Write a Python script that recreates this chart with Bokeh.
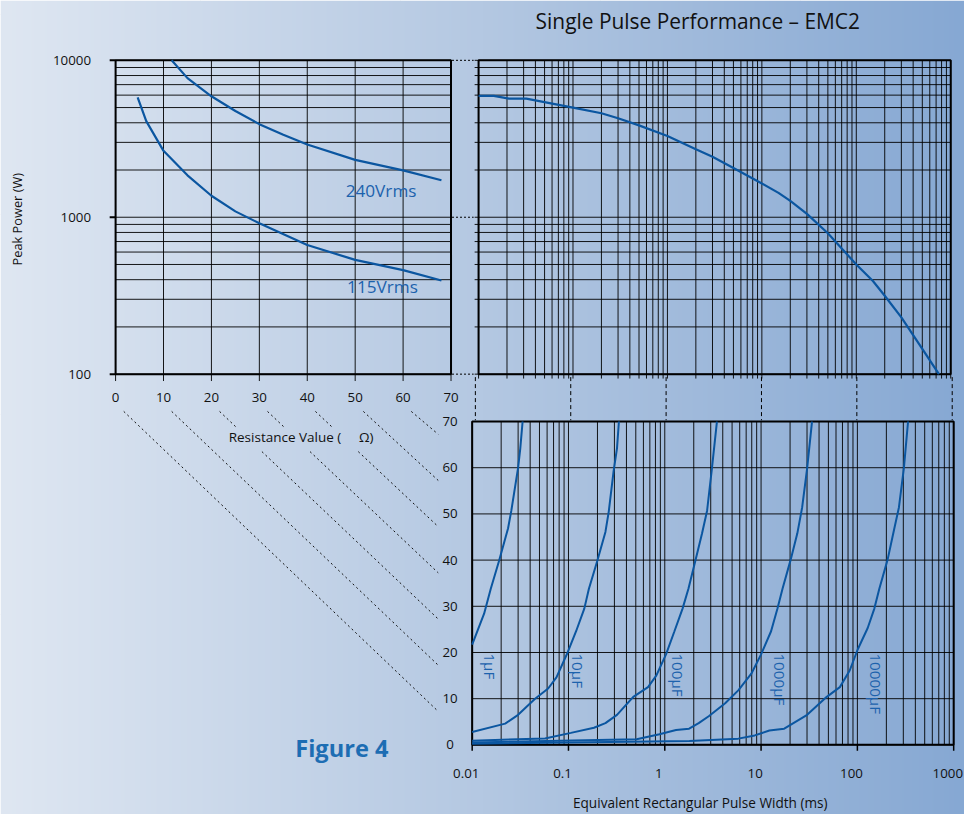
import math
import numpy as np
from bokeh.plotting import figure
from bokeh.models import Range1d, LogScale, LinearScale
from bokeh.core.properties import value
from bokeh.embed import file_html
from bokeh.resources import INLINE

# ---------------- data ----------------
resistance_ticks = [0, 10, 20, 30, 40, 50, 60, 70]
resistance_tick_labels = ["0", "10", "20", "30", "40", "50", "60", "70"]
power_ticks = [100, 1000, 10000]
power_tick_labels = ["100", "1000", "10000"]
pulse_ticks = [0.01, 0.1, 1, 10, 100, 1000]
pulse_tick_labels = ["0.01", "0.1", "1", "10", "100", "1000"]

# Peak power vs resistance
r_115 = [4.6, 6.4, 10, 15, 20, 25, 30, 40, 50, 60, 68]
p_115 = [5800, 4100, 2650, 1850, 1370, 1090, 915, 665, 535, 460, 395]
r_240 = [11.7, 15, 20, 25, 30, 35, 40, 50, 60, 68]
p_240 = [10000, 7700, 5900, 4750, 3920, 3350, 2910, 2320, 1990, 1720]
volt_labels = ["240Vrms", "115Vrms"]
volt_label_r = [55.4, 55.7]
volt_label_p = [1480, 362]

# Peak power vs pulse width
pw_t = [0.01, 0.0145, 0.021, 0.032, 0.1, 0.2, 0.3, 0.5, 1, 2, 3, 5, 10, 15, 20,
        30, 50, 100, 150, 200, 300, 500, 750]
pw_p = [5930, 5930, 5700, 5700, 5000, 4600, 4270, 3850, 3290, 2710, 2430, 2060,
        1640, 1430, 1270, 1050, 790, 500, 392, 316, 230, 145, 100]

# Resistance vs pulse width, per capacitance
t_1uF = [0.01, 0.0133, 0.0156, 0.019, 0.0236, 0.0255, 0.030, 0.0316, 0.0334]
r_1uF = [21.7, 28.4, 33.8, 39.8, 46.9, 50.7, 60, 64.2, 70]
t_10uF = [0.01, 0.022, 0.030, 0.045, 0.0615, 0.075, 0.098, 0.12, 0.146, 0.163,
          0.199, 0.242, 0.262, 0.294, 0.319, 0.334]
r_10uF = [2.8, 4.6, 6.5, 10, 12.2, 14.6, 20, 24.6, 29.5, 33.8, 39.8, 46.1, 50.5,
          59.2, 64.2, 70]
t_100uF = [0.01, 0.057, 0.106, 0.184, 0.242, 0.319, 0.471, 0.67, 0.816, 1.03,
           1.26, 1.53, 1.76, 2.09, 2.44, 2.75, 3.09, 3.48]
r_100uF = [0.9, 1.4, 2.6, 3.7, 4.7, 6.5, 10.4, 12.5, 15.0, 19.6, 24.6, 29.5,
           33.8, 40.1, 45.8, 50.7, 59.9, 70]
t_1000uF = [0.01, 0.51, 0.88, 1.31, 1.79, 2.25, 2.86, 4.24, 5.8, 7.92, 10.0,
            12.7, 14.8, 16.7, 20.3, 23.8, 26.7, 30.1, 33.8]
r_1000uF = [0.5, 1.2, 2.3, 3.2, 3.5, 4.7, 6.2, 9.0, 11.8, 15.4, 19.6, 24.6,
            29.5, 33.8, 40.1, 45.8, 51.4, 59.9, 70]
t_10000uF = [0.01, 1.8, 5.8, 8.6, 12.2, 17.4, 30.1, 48.1, 65.8, 83.2, 101, 128,
             150, 169, 206, 240, 270, 304, 336]
r_10000uF = [0.25, 0.85, 1.35, 2.05, 3.1, 3.5, 6.5, 10.4, 12.5, 16.1, 20.7,
             25.3, 29.5, 33.8, 40.1, 46.5, 51.4, 59.9, 70]
cap_labels = ["1µF", "10µF", "100µF", "1000µF", "10000µF"]
cap_label_t = [0.0153, 0.127, 1.38, 15.9, 156]
cap_label_r = [19.8, 19.8, 19.8, 19.8, 19.8]

# ---------------- layout ----------------
W, H = 964, 814
SX, SY = W / 980.0, H / 830.0
FONT = value("Open Sans")
CURVE = "#0b56a0"
LABEL = "#1c62ad"


def fs(n):
    return "%.1fpx" % (n * SX)


def PX(rx):
    return rx * SX


def PY(ry):
    return H - ry * SY


TL_X = (117.0, 458.0)     # resistance 0 .. 70
TOP_Y = (381.0, 61.0)     # power 100 .. 10000
TR_X = (486.0, 966.0)     # pulse 0.01 .. 1000 (upper)
BR_X = (479.5, 969.0)     # pulse 0.01 .. 1000 (lower)
BR_Y = (759.0, 429.3)     # resistance 0 .. 70 (lower)


def lin_range(d0, d1, p0, p1, L):
    k = (d1 - d0) / (p1 - p0)
    return Range1d(start=d0 - p0 * k, end=d0 + (L - p0) * k)


def log_range(d0, d1, p0, p1, L):
    a, b = math.log10(d0), math.log10(d1)
    k = (b - a) / (p1 - p0)
    return Range1d(start=10 ** (a - p0 * k), end=10 ** (a + (L - p0) * k))


def tl_ref_x(r):
    return TL_X[0] + (TL_X[1] - TL_X[0]) * r / 70.0


def br_ref_y(r):
    return BR_Y[0] + (BR_Y[1] - BR_Y[0]) * r / 70.0


def tr_ref_x(t):
    return TR_X[0] + (TR_X[1] - TR_X[0]) * (math.log10(t) + 2) / 5.0


def br_ref_x(t):
    return BR_X[0] + (BR_X[1] - BR_X[0]) * (math.log10(t) + 2) / 5.0


p = figure(width=W, height=H, x_range=Range1d(0, W), y_range=Range1d(0, H),
           output_backend="svg", toolbar_location=None,
           x_axis_location=None, y_axis_location=None, min_border=0,
           outline_line_color=None, background_fill_color=None,
           border_fill_color=None)

p.extra_x_ranges = {
    "res": lin_range(0, 70, PX(TL_X[0]), PX(TL_X[1]), W),
    "pw": log_range(0.01, 1000, PX(TR_X[0]), PX(TR_X[1]), W),
    "pw2": log_range(0.01, 1000, PX(BR_X[0]), PX(BR_X[1]), W),
}
p.extra_x_scales = {"res": LinearScale(), "pw": LogScale(), "pw2": LogScale()}
p.extra_y_ranges = {
    "pp": log_range(100, 10000, PY(TOP_Y[0]), PY(TOP_Y[1]), H),
    "resy": lin_range(0, 70, PY(BR_Y[0]), PY(BR_Y[1]), H),
}
p.extra_y_scales = {"pp": LogScale(), "resy": LinearScale()}

# ---------------- background gradient ----------------
xs_bg = np.arange(W) / SX
stops = [0, 490, 980]
cols = np.array([[223, 231, 242], [180, 200, 226], [134, 168, 211]], dtype=float)
img = np.empty((2, W), dtype=np.uint32)
view = img.view(dtype=np.uint8).reshape((2, W, 4))
for c in range(3):
    view[:, :, c] = np.interp(xs_bg, stops, cols[:, c]).astype(np.uint8)[None, :]
view[:, :, 3] = 255
p.image_rgba(image=[img], x=0, y=0, dw=W, dh=H)

GRID = dict(line_color="black", line_width=1, line_alpha=0.9)
TICKLBL = dict(text_font=FONT, text_font_size=fs(13.5), text_color="#111111",
               text_baseline="middle")

pgrid = [m * 10 ** e for e in (2, 3) for m in range(1, 10)] + [10000]
tgrid = [m * 10.0 ** e for e in (-2, -1, 0, 1, 2) for m in range(1, 10)] + [1000]

# ---------------- top-left plot ----------------
p.segment(x0=[0] * len(pgrid), x1=[70] * len(pgrid), y0=pgrid, y1=pgrid,
          x_range_name="res", y_range_name="pp", **GRID)
p.segment(x0=[PX(111)] * 3, x1=[PX(117)] * 3, y0=power_ticks, y1=power_ticks,
          y_range_name="pp", line_color="black", line_width=2)
p.segment(x0=resistance_ticks, x1=resistance_ticks,
          y0=[PY(61)] * len(resistance_ticks), y1=[PY(388)] * len(resistance_ticks),
          x_range_name="res", **GRID)
p.quad(left=[0], right=[70], bottom=[100], top=[10000], x_range_name="res",
       y_range_name="pp", fill_color=None, line_color="black", line_width=2)
p.line(r_240, p_240, x_range_name="res", y_range_name="pp", line_color=CURVE,
       line_width=2.2)
p.line(r_115, p_115, x_range_name="res", y_range_name="pp", line_color=CURVE,
       line_width=2.2)
p.text(x=volt_label_r, y=volt_label_p, text=volt_labels, x_range_name="res",
       y_range_name="pp", text_font=FONT, text_font_size=fs(17.5),
       text_color=LABEL, text_align="center", text_baseline="middle")

p.text(x=resistance_ticks, y=[PY(405)] * 8, text=resistance_tick_labels,
       x_range_name="res", text_align="center", **TICKLBL)
p.text(x=[PX(92)] * 3, y=power_ticks, text=power_tick_labels, y_range_name="pp",
       text_align="right", **TICKLBL)

# ---------------- top-right plot ----------------
p.segment(x0=[PX(482)] * len(pgrid), x1=[PX(TR_X[1])] * len(pgrid), y0=pgrid,
          y1=pgrid, y_range_name="pp", **GRID)
p.segment(x0=tgrid, x1=tgrid, y0=[PY(61)] * len(tgrid),
          y1=[PY(385.5)] * len(tgrid), x_range_name="pw", **GRID)
p.quad(left=[0.01], right=[1000], bottom=[100], top=[10000], x_range_name="pw",
       y_range_name="pp", fill_color=None, line_color="black", line_width=2)
p.line(pw_t, pw_p, x_range_name="pw", y_range_name="pp", line_color=CURVE,
       line_width=2.2)

# dotted connectors between the two upper plots
p.segment(x0=[PX(459)] * 3, x1=[PX(481)] * 3, y0=power_ticks, y1=power_ticks,
          y_range_name="pp", line_color="black", line_width=1, line_dash="2 2")

# ---------------- bottom-right plot ----------------
p.segment(x0=[0.01] * 8, x1=[1000] * 8, y0=resistance_ticks, y1=resistance_ticks,
          x_range_name="pw2", y_range_name="resy", **GRID)
p.segment(x0=tgrid, x1=tgrid, y0=[0] * len(tgrid), y1=[70] * len(tgrid),
          x_range_name="pw2", y_range_name="resy", **GRID)
p.segment(x0=pulse_ticks, x1=pulse_ticks, y0=[PY(759)] * 6, y1=[PY(765)] * 6,
          x_range_name="pw2", line_color="black", line_width=1.5)
p.quad(left=[0.01], right=[1000], bottom=[0], top=[70], x_range_name="pw2",
       y_range_name="resy", fill_color=None, line_color="black", line_width=2)
for tt, rr in [(t_1uF, r_1uF), (t_10uF, r_10uF), (t_100uF, r_100uF),
               (t_1000uF, r_1000uF), (t_10000uF, r_10000uF)]:
    p.line(tt, rr, x_range_name="pw2", y_range_name="resy", line_color=CURVE,
           line_width=2)
p.text(x=cap_label_t, y=cap_label_r, text=cap_labels, x_range_name="pw2",
       y_range_name="resy", angle=-math.pi / 2, text_font=FONT,
       text_font_size=fs(15.5), text_color=LABEL, text_align="left",
       text_baseline="middle")

p.text(x=[PX(457)] * 8, y=resistance_ticks, text=resistance_tick_labels,
       y_range_name="resy", text_align="center", **TICKLBL)
p.text(x=pulse_ticks, y=[PY(788)] * 6, text=pulse_tick_labels,
       x_range_name="pw2", x_offset=-6 * SX, text_align="center", **TICKLBL)

# dashed decade connectors between the right plots
dx = [PX((tr_ref_x(t) + br_ref_x(t)) / 2) for t in pulse_ticks]
p.segment(x0=dx, x1=dx, y0=[PY(384)] * 6, y1=[PY(428)] * 6,
          line_color="black", line_width=1, line_dash="4 3")

# diagonal dashed guide lines from the resistance axis to the lower plot
GAP_Y = (435.0, 460.0)
GAP_X = (225.0, 380.0)
dxs, dys = [], []
for r in resistance_ticks[:-1]:
    sx, sy = tl_ref_x(r) + 8.3, 419.0
    ex, ey = 445.0, br_ref_y(r + 10) + 13.0
    ta = (GAP_Y[0] - sy) / (ey - sy)
    tb = (GAP_Y[1] - sy) / (ey - sy)
    xa = sx + ta * (ex - sx)
    if 0 < ta < 1 and GAP_X[0] <= xa <= GAP_X[1]:
        pieces = [(sx, sy, xa, GAP_Y[0]),
                  (sx + tb * (ex - sx), GAP_Y[1], ex, ey)]
    else:
        pieces = [(sx, sy, ex, ey)]
    for a, b, c, d in pieces:
        dxs.append([PX(a), PX(c)])
        dys.append([PY(b), PY(d)])
p.multi_line(xs=dxs, ys=dys, line_color="#111111", line_width=1,
             line_dash="2 3")

# ---------------- texts ----------------
p.text(x=[PX(544)], y=[PY(21)], text=["Single Pulse Performance – EMC2"],
       text_font=FONT, text_font_size=fs(21.2), text_color="#111111",
       text_align="left", text_baseline="middle")
p.text(x=[PX(17)], y=[PY(223)], text=["Peak Power (W)"], angle=math.pi / 2,
       text_font=FONT, text_font_size=fs(13), text_color="#111111",
       text_align="center", text_baseline="middle")
p.text(x=[PX(232)], y=[PY(445)],
       text=["Resistance Value (\u00a0\u00a0\u00a0\u00a0\u00a0Ω)"],
       text_font=FONT, text_font_size=fs(13.7), text_color="#111111",
       text_align="left", text_baseline="middle")
p.text(x=[PX(582)], y=[PY(818)], text=["Equivalent Rectangular Pulse Width (ms)"],
       text_font=FONT, text_font_size=fs(13.8), text_color="#111111",
       text_align="left", text_baseline="middle")
p.text(x=[PX(347)], y=[PY(762)], text=["Figure 4"], text_font=FONT,
       text_font_size=fs(24), text_font_style="bold", text_color="#1d6db3",
       text_align="center", text_baseline="middle")

open("out.html", "w").write(file_html(p, INLINE))
